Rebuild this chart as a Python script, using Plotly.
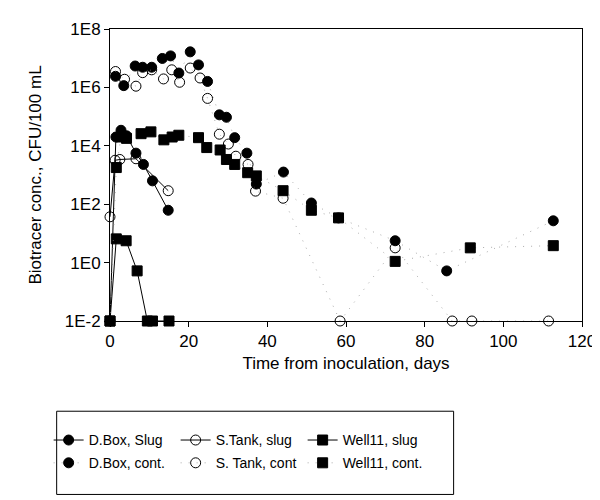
import plotly.graph_objects as go

# ---- data (days, CFU/100 mL) ----
dbox_slug_t = [0, 1.5, 2.8, 4.2, 6.6, 8.5, 10.8, 14.8]
dbox_slug_v = [0.01, 2.0e4, 3.4e4, 2.2e4, 5.6e3, 2.3e3, 630, 62]

stank_slug_t = [0, 1.3, 2.5, 6.6, 14.8]
stank_slug_v = [37, 3.2e3, 3.4e3, 3.6e3, 290]

well_slug_t = [0, 1.6, 4.1, 6.9, 9.5, 10.8, 15.0]
well_slug_v = [0.01, 6.5, 5.6, 0.52, 0.01, 0.01, 0.01]

dbox_cont_t = [1.4, 3.5, 6.4, 8.3, 10.6, 13.3, 15.4, 17.5, 20.4, 22.5, 24.8, 27.8, 29.6,
               31.7, 34.8, 37.2, 44.1, 51.2, 58.1, 72.5, 85.6, 112.7]
dbox_cont_v = [2.4e6, 1.15e6, 5.4e6, 4.9e6, 4.9e6, 9.8e6, 1.2e7, 3.1e6, 1.65e7, 5.9e6, 1.6e6,
               1.15e5, 9.5e4, 1.9e4, 5.6e3, 490, 1.26e3, 110, 34, 5.6, 0.52, 27]

stank_cont_t = [1.4, 3.7, 6.6, 8.3, 10.6, 13.6, 15.7, 17.7, 20.4, 22.9, 24.8, 27.8, 30.1,
                32.0, 35.1, 37.0, 44.0, 58.5, 72.5, 87.0, 92.0, 111.5]
stank_cont_v = [3.5e6, 1.9e6, 1.1e6, 3.2e6, 4.0e6, 1.95e6, 4.0e6, 1.5e6, 4.6e6, 2.1e6, 4.2e5,
                2.5e4, 1.15e4, 4.4e3, 2.3e3, 280, 160, 0.01, 3.2, 0.01, 0.01, 0.01]

well_cont_t = [0, 1.6, 2.8, 4.2, 7.9, 10.4, 13.7, 15.8, 17.5, 22.5, 24.6, 28.0, 29.6, 31.7,
               35.0, 37.2, 44.0, 51.2, 58.1, 72.5, 91.6, 112.7]
well_cont_v = [0.01, 1.8e3, 2.0e4, 1.8e4, 2.6e4, 3.0e4, 1.6e4, 2.0e4, 2.3e4, 1.9e4, 8.7e3,
               7.2e3, 3.4e3, 2.3e3, 1.2e3, 930, 290, 62, 34, 1.1, 3.2, 3.8]

y_tickvals = [1e8, 1e6, 1e4, 1e2, 1e0, 1e-2]
y_ticktext = ["1E8", "1E6", "1E4", "1E2", "1E0", "1E-2"]
x_tickvals = [0, 20, 40, 60, 80, 100, 120]

FONT = "Liberation Sans, Arial, Helvetica, sans-serif"

fig = go.Figure()

def add(name, t, v, symbol, line, legend):
    fig.add_trace(go.Scatter(
        x=t, y=v, name=name, mode="lines+markers",
        line=line,
        marker=dict(symbol=symbol, size=10, color="black",
                    line=dict(color="black", width=1)),
        cliponaxis=False, legend=legend,
    ))

solid = dict(color="black", width=1, dash="solid")
faint = dict(color="#888888", width=0.7, dash="1px,7px")

add("D.Box, Slug", dbox_slug_t, dbox_slug_v, "circle", solid, "legend")
add("S.Tank, slug", stank_slug_t, stank_slug_v, "circle-open", solid, "legend")
add("Well11, slug", well_slug_t, well_slug_v, "square", solid, "legend")
add("D.Box, cont.", dbox_cont_t, dbox_cont_v, "circle", faint, "legend2")
add("S. Tank, cont", stank_cont_t, stank_cont_v, "circle-open", faint, "legend2")
add("Well11, cont.", well_cont_t, well_cont_v, "square", faint, "legend2")

leg_common = dict(
    orientation="h", x=-0.130, xanchor="left", yanchor="middle",
    entrywidth=82, entrywidthmode="pixels",
    borderwidth=0, bgcolor="rgba(0,0,0,0)",
    font=dict(size=14, family=FONT),
)

fig.update_layout(
    width=600, height=500,
    margin=dict(l=102, r=20, t=15, b=187),
    paper_bgcolor="white", plot_bgcolor="white",
    font=dict(family=FONT, color="black", size=17),
    showlegend=True,
    legend=dict(y=-0.409, **leg_common),
    legend2=dict(y=-0.487, **leg_common),
    shapes=[dict(type="rect", xref="paper", yref="paper",
                 x0=-0.113, x1=0.728, y0=-0.594, y1=-0.309,
                 line=dict(color="black", width=1))],
)

fig.update_xaxes(
    range=[0, 120], tickvals=x_tickvals,
    showgrid=False, zeroline=False,
    showline=True, linecolor="black", linewidth=1, mirror=True,
    ticks="outside", ticklen=5, tickcolor="black",
    tickfont=dict(size=17),
    title=dict(text="Time from inoculation, days", font=dict(size=17), standoff=6),
)
fig.update_yaxes(
    type="log", range=[-2, 8], tickvals=y_tickvals, ticktext=y_ticktext,
    showgrid=False, zeroline=False,
    showline=True, linecolor="black", linewidth=1, mirror=True,
    ticks="outside", ticklen=5, tickcolor="black",
    tickfont=dict(size=17),
    title=dict(text="Biotracer conc., CFU/100 mL", font=dict(size=17), standoff=18),
)

fig.write_html("out.html")
